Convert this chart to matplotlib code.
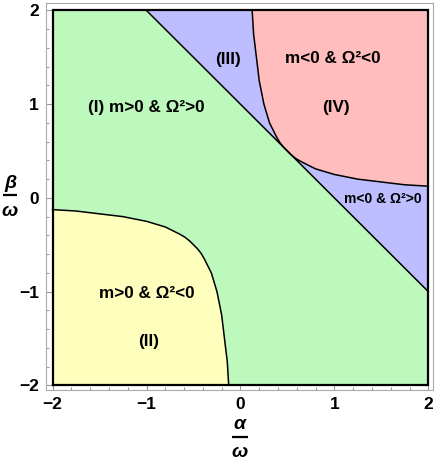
import matplotlib
matplotlib.use("Agg")
import matplotlib.pyplot as plt
from matplotlib.patches import Polygon
from matplotlib.lines import Line2D

plt.rcParams["font.family"] = ["Liberation Sans", "DejaVu Sans"]

# plotted range (alpha/omega, beta/omega)
ALPHA_RANGE = [-2.0, 2.0]
BETA_RANGE = [-2.0, 2.0]

# m = 0 line, end points
M0_ALPHA = [-1.0, 2.0]
M0_BETA = [2.0, -1.0]

# Omega^2 = 0 boundary, lower-left branch
LOW_ALPHA = [-2.0, -1.75, -1.5, -1.25, -1.1, -1.0, -0.9, -0.8, -0.72, -0.65,
             -0.59, -0.54, -0.5, -0.46, -0.42, -0.385, -0.35, -0.31, -0.28,
             -0.25, -0.23, -0.2, -0.17, -0.14, -0.125]
LOW_BETA = [-0.125, -0.14, -0.17, -0.2, -0.23, -0.25, -0.28, -0.31, -0.35,
            -0.385, -0.42, -0.46, -0.5, -0.54, -0.59, -0.65, -0.72, -0.8,
            -0.9, -1.0, -1.1, -1.25, -1.5, -1.75, -2.0]
# Omega^2 = 0 boundary, upper-right branch
UP_ALPHA = [0.125, 0.14, 0.17, 0.2, 0.23, 0.25, 0.28, 0.31, 0.35, 0.385,
            0.42, 0.46, 0.5, 0.54, 0.59, 0.65, 0.72, 0.8, 0.9, 1.0, 1.1,
            1.25, 1.5, 1.75, 2.0]
UP_BETA = [2.0, 1.75, 1.5, 1.25, 1.1, 1.0, 0.9, 0.8, 0.72, 0.65, 0.59,
           0.54, 0.5, 0.46, 0.42, 0.385, 0.35, 0.31, 0.28, 0.25, 0.23,
           0.2, 0.17, 0.14, 0.125]

GREEN, YELLOW, BLUE, RED = "#bdf8bd", "#ffffbd", "#bdbdff", "#ffbdbd"

W, H = 436, 461
fig = plt.figure(figsize=(W / 100, H / 100), dpi=100)
ax = fig.add_axes([46 / W, 1 - 390 / H, 387 / W, 387 / H])

a0, a1 = ALPHA_RANGE
b0, b1 = BETA_RANGE

# regions
ax.add_patch(Polygon([(a0, b0), (a1, b0), (a1, b1), (a0, b1)], closed=True,
                     facecolor=GREEN, edgecolor="none", zorder=1))
ax.add_patch(Polygon([(a0, b0)] + list(zip(LOW_ALPHA, LOW_BETA)), closed=True,
                     facecolor=YELLOW, edgecolor="none", zorder=2))
ax.add_patch(Polygon([(M0_ALPHA[0], M0_BETA[0]), (a1, b1), (M0_ALPHA[1], M0_BETA[1])],
                     closed=True, facecolor=BLUE, edgecolor="none", zorder=2))
ax.add_patch(Polygon(list(zip(UP_ALPHA, UP_BETA)) + [(a1, b1)], closed=True,
                     facecolor=RED, edgecolor="none", zorder=3))

# boundaries
lw = 1.1
ax.plot(M0_ALPHA, M0_BETA, color="black", lw=lw, zorder=4)
ax.plot(LOW_ALPHA, LOW_BETA, color="black", lw=lw, zorder=4)
ax.plot(UP_ALPHA, UP_BETA, color="black", lw=lw, zorder=4)
ax.plot([a0, a1, a1, a0, a0], [b0, b0, b1, b1, b0], color="black", lw=1.6,
        zorder=4, solid_joinstyle="miter")

# labels
big = dict(fontsize=12.3, fontweight="bold", ha="center", va="center", zorder=5)
ax.text(-1.0, 0.97, "(I) m>0 & Ω²>0", **big)
ax.text(-1.0, -1.02, "m>0 & Ω²<0", **big)
ax.text(-0.98, -1.53, "(II)", **big)
ax.text(-0.13, 1.48, "(III)", **big)
ax.text(0.98, 1.49, "m<0 & Ω²<0", **big)
ax.text(1.02, 0.97, "(IV)", **big)
ax.text(1.52, -0.01, "m<0 & Ω²>0", fontsize=10, fontweight="bold",
        ha="center", va="center", zorder=5)

ax.set_xlim(-2.07, 2.05)
ax.set_ylim(-2.05, 2.08)
ax.set_xticks([-2, -1, 0, 1, 2])
ax.set_yticks([-2, -1, 0, 1, 2])
ax.set_xticklabels(["\u22122", "\u22121", "0", "1", "2"])
ax.set_yticklabels(["\u22122", "\u22121", "0", "1", "2"])
ax.set_xticks([x / 5 for x in range(-10, 11)], minor=True)
ax.set_yticks([x / 5 for x in range(-10, 11)], minor=True)
ax.tick_params(which="both", direction="in", color="#999999", width=0.8,
               labelsize=12.5)
ax.tick_params(which="major", length=4, pad=5)
ax.tick_params(which="minor", length=2)
for lab in ax.get_xticklabels() + ax.get_yticklabels():
    lab.set_fontweight("bold")
for sp in ax.spines.values():
    sp.set_color("#aaaaaa")
    sp.set_linewidth(0.8)


# axis labels drawn as stacked fractions
def frac_label(cx, top_y, bar_y, bot_y, num, half_w):
    kw = dict(fontsize=14, fontweight="bold", fontstyle="italic",
              ha="center", va="center")
    fig.text(cx / W, 1 - top_y / H, num, **kw)
    fig.text(cx / W, 1 - bot_y / H, "ω", **kw)
    fig.add_artist(Line2D([(cx - half_w) / W, (cx + half_w) / W],
                          [1 - bar_y / H, 1 - bar_y / H],
                          color="black", lw=1.6, solid_capstyle="butt"))


frac_label(240, 424, 436.5, 452, "α", 8)
frac_label(10, 183, 195, 211, "β", 7)

fig.savefig("out.png", dpi=100)
